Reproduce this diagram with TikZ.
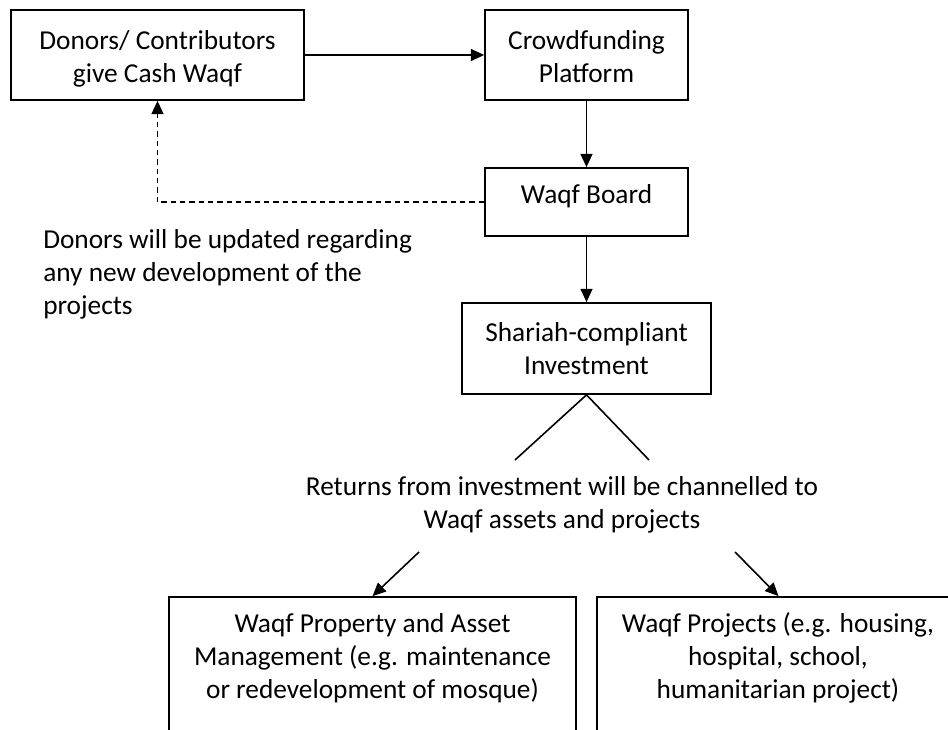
\documentclass[tikz,border=0pt]{standalone}
\usepackage{fontspec}
\setmainfont{Carlito}
\usetikzlibrary{arrows.meta}
\begin{document}
\begin{tikzpicture}[x=0.75pt,y=-0.75pt,
  every node/.style={font=\fontsize{20.5}{24.75}\selectfont, text=black},
  box/.style={draw=black, line width=1.3pt, inner sep=0pt, align=center},
  txt/.style={align=center, inner sep=0pt},
  conn/.style={line width=1.2pt},
  arr/.style={conn, -{Triangle[length=10pt,width=9pt]}},
  dashconn/.style={arr, dash pattern=on 4pt off 3pt}
]
\clip (0,0) rectangle (948,730);
\fill[white] (0,0) rectangle (948,730);

\node[box, minimum width=219.75pt, minimum height=67.5pt] (donors) at (157.5,55) {};
\node[txt] (donorstxt) at (157.5,59) {Donors/ Contributors\\give Cash Waqf};
\node[box, minimum width=152.25pt, minimum height=67.5pt] (crowd) at (586.5,55) {};
\node[txt] (crowdtxt) at (586.5,57) {Crowdfunding\\Platform};
\node[box, minimum width=152.25pt, minimum height=51pt] (board) at (586.5,202) {};
\node[txt] (boardtxt) at (586.5,196) {Waqf Board};
\node[box, minimum width=186.75pt, minimum height=68.25pt] (shariah) at (586.5,348.5) {Shariah-compliant\\Investment};

\node[txt, anchor=west, align=left] (update) at (43,274.5) {Donors will be updated regarding\\any new development of the\\projects};

\node[txt] (returns) at (562,505) {Returns from investment will be channelled to\\Waqf assets and projects};

\node[box, minimum width=305.25pt, minimum height=122.25pt] (left) at (372.5,678.5) {};
\node[txt] (lefttxt) at (372.5,658) {Waqf Property and Asset\\Management (e.g. maintenance\\or redevelopment of mosque)};
\node[box, minimum width=272.25pt, minimum height=122.25pt] (right) at (778.5,678.5) {};
\node[txt] (righttxt) at (778,658) {Waqf Projects (e.g. housing,\\hospital, school,\\humanitarian project)};

\coordinate (vL) at (515,460);
\coordinate (vR) at (649,460);
\coordinate (aL) at (419,552);
\coordinate (aR) at (735,552);

\draw[arr] (donors.east) -- (crowd.west);
\draw[arr] (crowd.south) -- (board.north);
\draw[arr] (board.south) -- (shariah.north);
\draw[dashconn] (board.west) -| (donors.south);
\draw[conn] (vL) -- (shariah.south) -- (vR);
\draw[arr] (aL) -- (left.north);
\draw[arr] (aR) -- (right.north);
\end{tikzpicture}
\end{document}
